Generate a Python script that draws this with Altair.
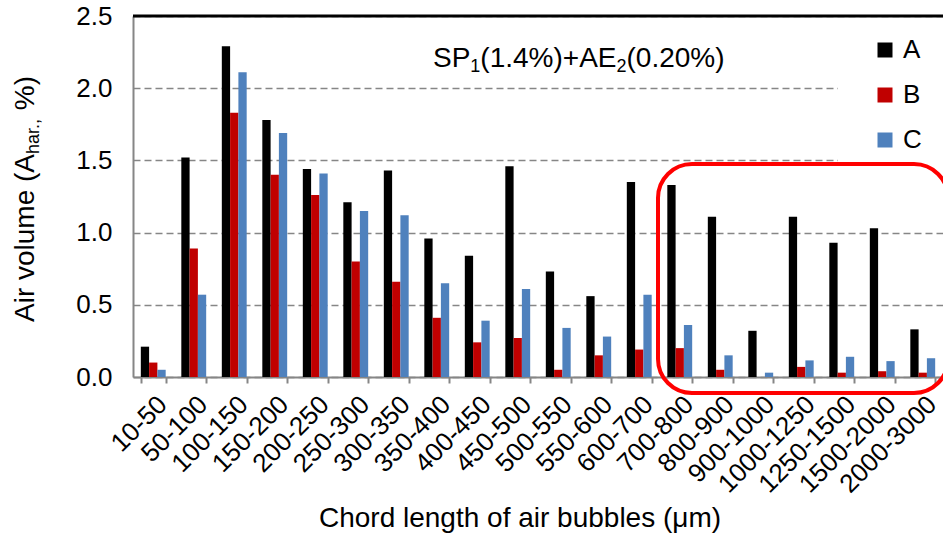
import altair as alt
import pandas as pd

categories = ["10-50", "50-100", "100-150", "150-200", "200-250", "250-300",
              "300-350", "350-400", "400-450", "450-500", "500-550", "550-600",
              "600-700", "700-800", "800-900", "900-1000", "1000-1250",
              "1250-1500", "1500-2000", "2000-3000"]
series_names = ["A", "B", "C"]
values_A = [0.21, 1.52, 2.29, 1.78, 1.44, 1.21, 1.43, 0.96, 0.84, 1.46, 0.73,
            0.56, 1.35, 1.33, 1.11, 0.32, 1.11, 0.93, 1.03, 0.33]
values_B = [0.10, 0.89, 1.83, 1.40, 1.26, 0.80, 0.66, 0.41, 0.24, 0.27, 0.05,
            0.15, 0.19, 0.20, 0.05, 0.0, 0.07, 0.03, 0.04, 0.03]
values_C = [0.05, 0.57, 2.11, 1.69, 1.41, 1.15, 1.12, 0.65, 0.39, 0.61, 0.34,
            0.28, 0.57, 0.36, 0.15, 0.03, 0.115, 0.14, 0.11, 0.13]
colors = ["#000000", "#C00000", "#4F81BD"]
y_ticks = [0, 0.5, 1.0, 1.5, 2.0, 2.5]

FONT = "Liberation Sans"
W, H = 810, 361

rows = []
for s, vals in zip(series_names, [values_A, values_B, values_C]):
    for c, v in zip(categories, vals):
        rows.append({"cat": c, "series": s, "value": v})
df = pd.DataFrame(rows)

bars = alt.Chart(df).mark_bar().encode(
    x=alt.X("cat:N", sort=categories,
            scale=alt.Scale(paddingInner=0.386, paddingOuter=0.193),
            axis=alt.Axis(title=None, labelAngle=315, labelAlign="right",
                          labelBaseline="top", labelFontSize=26,
                          labelFont=FONT, labelColor="black", labelPadding=8,
                          tickBand="extent", tickSize=6, tickColor="#868686",
                          tickWidth=2, domainColor="#868686", domainWidth=2,
                          grid=False)),
    xOffset=alt.XOffset("series:N", sort=series_names,
                        scale=alt.Scale(paddingInner=0, paddingOuter=0)),
    y=alt.Y("value:Q", scale=alt.Scale(domain=[0, 2.5], nice=False),
            axis=alt.Axis(title=None, values=y_ticks, format=".1f",
                          labelFontSize=26, labelFont=FONT, labelColor="black",
                          tickSize=0, labelPadding=21, domainColor="#868686",
                          domainWidth=2, grid=True, gridDash=[7, 4],
                          gridColor="#868686", gridWidth=1.5)),
    color=alt.Color("series:N", sort=series_names,
                    scale=alt.Scale(domain=series_names, range=colors),
                    legend=alt.Legend(title=None, orient="none", legendX=739,
                                      legendY=21, symbolType="square",
                                      symbolSize=225, symbolStrokeWidth=0,
                                      labelFontSize=26, labelFont=FONT,
                                      labelColor="black", rowPadding=19,
                                      labelOffset=5, padding=0)),
)

one = pd.DataFrame({"k": [0]})

white_box = alt.Chart(one).mark_rect(color="white").encode(
    x=alt.value(705), x2=alt.value(815), y=alt.value(5), y2=alt.value(155))

top_border = alt.Chart(one).mark_rule(color="black", strokeWidth=3).encode(
    x=alt.value(0), x2=alt.value(W), y=alt.value(0))

red_box = alt.Chart(one).mark_rect(fillOpacity=0, stroke="#FF0000",
                                   strokeWidth=4, cornerRadius=34).encode(
    x=alt.value(525), x2=alt.value(815), y=alt.value(148), y2=alt.value(377))

# Chart title with subscripts
F, S = 28, 18
title_parts = [("SP", F, 0), ("1", S, 5), ("(1.4%)+AE", F, 0), ("2", S, 5),
               ("(0.20%)", F, 0)]
widths = {"SP": 1.334, "1": 0.556, "(1.4%)+AE": 4.863, "2": 0.556,
          "(0.20%)": 3.501}
layers = []
xcur = 300
for txt, size, dy in title_parts:
    layers.append(alt.Chart(one).mark_text(
        text=txt, font=FONT, fontSize=size, align="left",
        baseline="alphabetic", color="black").encode(
        x=alt.value(xcur), y=alt.value(51 + dy)))
    xcur += widths[txt] * size

# Y-axis title with subscript (rotated)
ytitle_parts = [("Air volume (A", F, 0, 6.001), ("har.,", S, 5, 2.001 + 0.278 * F / S),
                ("%)", F, 0, 1.222)]
ycur = 306
for txt, size, dx, wfac in ytitle_parts:
    layers.append(alt.Chart(one).mark_text(
        text=txt, font=FONT, fontSize=size, align="left",
        baseline="alphabetic", angle=270, color="black").encode(
        x=alt.value(-99 + dx), y=alt.value(ycur)))
    ycur -= wfac * size

xtitle = alt.Chart(one).mark_text(
    text="Chord length of air bubbles (\u03bcm)", font=FONT, fontSize=28,
    align="center", baseline="alphabetic", color="black").encode(
    x=alt.value(387), y=alt.value(511))

chart = alt.layer(bars, white_box, top_border, red_box, xtitle, *layers).properties(
    width=W, height=H,
    autosize=alt.AutoSizeParams(type="none"),
    padding={"left": 133, "top": 16, "right": 0, "bottom": 156},
).configure_view(strokeWidth=0)

chart.save("out.html", embed_options={"renderer": "svg", "actions": False})
